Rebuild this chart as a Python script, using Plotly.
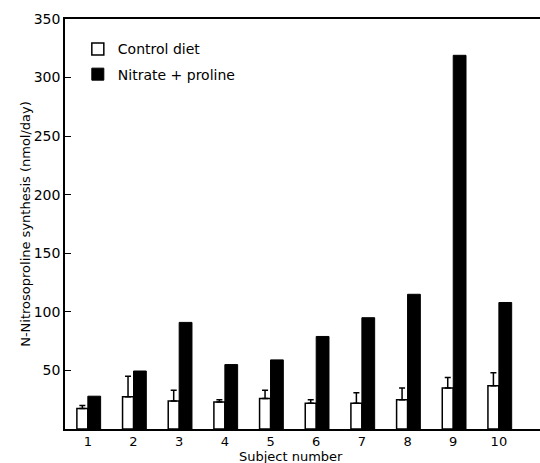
import plotly.graph_objects as go

subjects = [1, 2, 3, 4, 5, 6, 7, 8, 9, 10]
control_diet = [17.5, 27.5, 24, 23, 26, 22, 22, 25, 35, 37]
control_err_plus = [2.5, 17.5, 9, 2, 7, 3, 9, 10, 9, 11]
nitrate_proline = [28, 49.5, 91, 55, 59, 79, 95, 115, 319, 108]
y_ticks = [50, 100, 150, 200, 250, 300, 350]

FONT = "DejaVu Sans"

fig = go.Figure()
fig.add_trace(go.Bar(
    x=subjects, y=control_diet, name="Control diet",
    width=0.24, offset=-0.24,
    marker=dict(color="white", line=dict(color="black", width=1.5)),
    error_y=dict(type="data", array=control_err_plus, arrayminus=[0] * len(subjects),
                 symmetric=False, color="black", thickness=1.5, width=3),
    legendgroup="a",
))
fig.add_trace(go.Bar(
    x=subjects, y=nitrate_proline, name="Nitrate + proline",
    width=0.28, offset=0,
    marker=dict(color="black", line=dict(color="black", width=1)),
    legendgroup="b",
))

fig.update_layout(
    width=540, height=463,
    margin=dict(l=65, r=0, t=19, b=34),
    paper_bgcolor="white", plot_bgcolor="white",
    font=dict(family=FONT, size=14, color="black"),
    barmode="overlay",
    showlegend=True,
    legend=dict(x=0.027, y=0.965, xanchor="left", yanchor="top",
                traceorder="grouped", tracegroupgap=4,
                font=dict(family=FONT, size=14, color="black"),
                bgcolor="rgba(0,0,0,0)"),
    xaxis=dict(range=[0.5, 10.9], tickvals=subjects, ticktext=[str(s) for s in subjects],
               showline=True, linecolor="black", linewidth=1.5, mirror=True,
               ticks="", showgrid=False, zeroline=False,
               tickfont=dict(family=FONT, size=13)),
    yaxis=dict(range=[0, 350], tickvals=y_ticks, ticktext=[str(v) for v in y_ticks],
               showline=True, linecolor="black", linewidth=1.5, mirror=False,
               ticks="inside", ticklen=6, tickwidth=1.2, tickcolor="black",
               showgrid=False, zeroline=False,
               tickfont=dict(family=FONT, size=14),
               title=dict(text="N-Nitrosoproline synthesis (nmol/day)",
                          font=dict(family=FONT, size=13), standoff=0)),
    annotations=[dict(text="Subject number", xref="paper", yref="paper",
                      x=0.475, y=-0.066, xanchor="center", yanchor="middle",
                      showarrow=False, font=dict(family=FONT, size=13))],
)

fig.write_html("out.html", config={"displayModeBar": False},
               post_script="document.body.style.margin='0';document.body.style.padding='0';")
